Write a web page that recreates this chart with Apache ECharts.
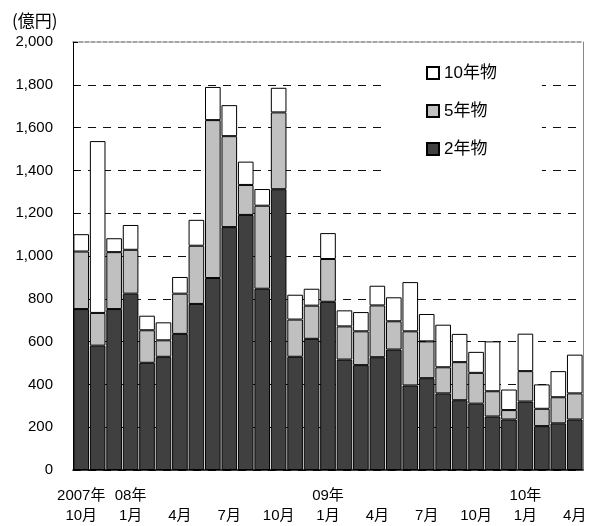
<!DOCTYPE html>
<html>
<head>
<meta charset="utf-8">
<script src="https://cdn.jsdelivr.net/npm/echarts@6/dist/echarts.min.js"></script>
<style>
  html, body { margin: 0; padding: 0; background: #fff; }
  #chart { width: 595px; height: 526px; }
</style>
</head>
<body>
<div id="chart"></div>
<script>
// 月次 (2007年10月〜2010年4月)
const months = [
  '2007-10','2007-11','2007-12',
  '2008-01','2008-02','2008-03','2008-04','2008-05','2008-06',
  '2008-07','2008-08','2008-09','2008-10','2008-11','2008-12',
  '2009-01','2009-02','2009-03','2009-04','2009-05','2009-06',
  '2009-07','2009-08','2009-09','2009-10','2009-11','2009-12',
  '2010-01','2010-02','2010-03','2010-04'
];

// 軸ラベル (年\n月)
const tickLabels = {
  '2007-10': '2007年\n10月',
  '2008-01': '08年\n1月',
  '2008-04': '\n4月',
  '2008-07': '\n7月',
  '2008-10': '\n10月',
  '2009-01': '09年\n1月',
  '2009-04': '\n4月',
  '2009-07': '\n7月',
  '2009-10': '\n10月',
  '2010-01': '10年\n1月',
  '2010-04': '\n4月'
};

// 発行額 (億円)
const y2 = [752, 581, 752, 824, 501, 529, 636, 776, 897, 1135, 1192, 847, 1312, 529, 613,
            786, 516, 490, 527, 563, 395, 429, 358, 326, 310, 250, 236, 320, 205, 218, 236];
const y5 = [269, 153, 266, 205, 152, 77, 188, 272, 738, 425, 140, 388, 359, 174, 155,
            200, 155, 158, 242, 132, 253, 172, 122, 178, 144, 118, 44, 142, 81, 122, 122];
const y10 = [81, 803, 65, 116, 68, 84, 78, 121, 155, 145, 109, 78, 115, 116, 79,
             121, 75, 90, 92, 112, 230, 128, 199, 132, 98, 233, 96, 175, 114, 122, 181];

const yTicks = { min: 0, max: 2000, interval: 200 };

const FONT = '"Liberation Sans", "Noto Sans CJK JP", sans-serif';

const chart = echarts.init(document.getElementById('chart'), null, { renderer: 'canvas' });

const barStyle = (color) => ({ color: color, borderColor: '#000', borderWidth: 1 });

chart.setOption({
  animation: false,
  backgroundColor: '#fff',
  textStyle: { fontFamily: FONT },
  grid: { left: 73, right: 12, top: 42, bottom: 55, containLabel: false },
  graphic: [{
    type: 'text', left: 12, top: 12,
    style: { text: '(億円)', font: '17px "Noto Sans CJK JP", sans-serif', fill: '#000' }
  }],
  legend: {
    orient: 'vertical',
    left: 385, top: 44,
    padding: [20, 45, 20, 41],
    backgroundColor: '#fff',
    itemWidth: 12, itemHeight: 12, itemGap: 20,
    icon: 'rect',
    data: ['10年物', '5年物', '2年物'],
    textStyle: { fontSize: 17, lineHeight: 18, color: '#000', fontFamily: FONT }
  },
  xAxis: [{
    type: 'category',
    data: months,
    axisLine: { show: true, lineStyle: { color: '#000', width: 1.5 } },
    axisTick: { show: false },
    axisLabel: {
      interval: 0,
      margin: 16,
      fontSize: 15,
      lineHeight: 20,
      color: '#000',
      formatter: (v) => tickLabels[v] || ''
    }
  }, {
    // 上枠 (灰色の破線)
    type: 'category',
    data: months,
    position: 'top',
    axisLine: { show: true, onZero: false, lineStyle: { color: '#888', width: 1.5, type: [4, 2] } },
    axisTick: { show: false },
    axisLabel: { show: false },
    splitLine: { show: false }
  }],
  yAxis: [{
    type: 'value',
    min: yTicks.min, max: yTicks.max, interval: yTicks.interval,
    axisLine: { show: true, lineStyle: { color: '#000', width: 1 } },
    axisTick: { show: true, inside: true, length: 5, lineStyle: { color: '#000' } },
    axisLabel: {
      margin: 20, fontSize: 15, color: '#000',
      formatter: (v) => v.toLocaleString('en-US')
    },
    splitLine: {
      show: true,
      showMaxLine: false,
      lineStyle: { color: '#111', type: [8, 7], width: 1 }
    }
  }, {
    // 右枠
    type: 'value', position: 'right',
    min: yTicks.min, max: yTicks.max, interval: yTicks.interval,
    axisLine: { show: true, onZero: false, lineStyle: { color: '#888', width: 1 } },
    axisTick: { show: false },
    axisLabel: { show: false },
    splitLine: { show: false }
  }],
  series: [
    { name: '2年物', type: 'bar', stack: 'total', data: y2, barCategoryGap: '5%',
      itemStyle: barStyle('#404040') },
    { name: '5年物', type: 'bar', stack: 'total', data: y5, barCategoryGap: '5%',
      itemStyle: barStyle('#c0c0c0') },
    { name: '10年物', type: 'bar', stack: 'total', data: y10, barCategoryGap: '5%',
      itemStyle: barStyle('#ffffff') }
  ]
});
</script>
</body>
</html>
